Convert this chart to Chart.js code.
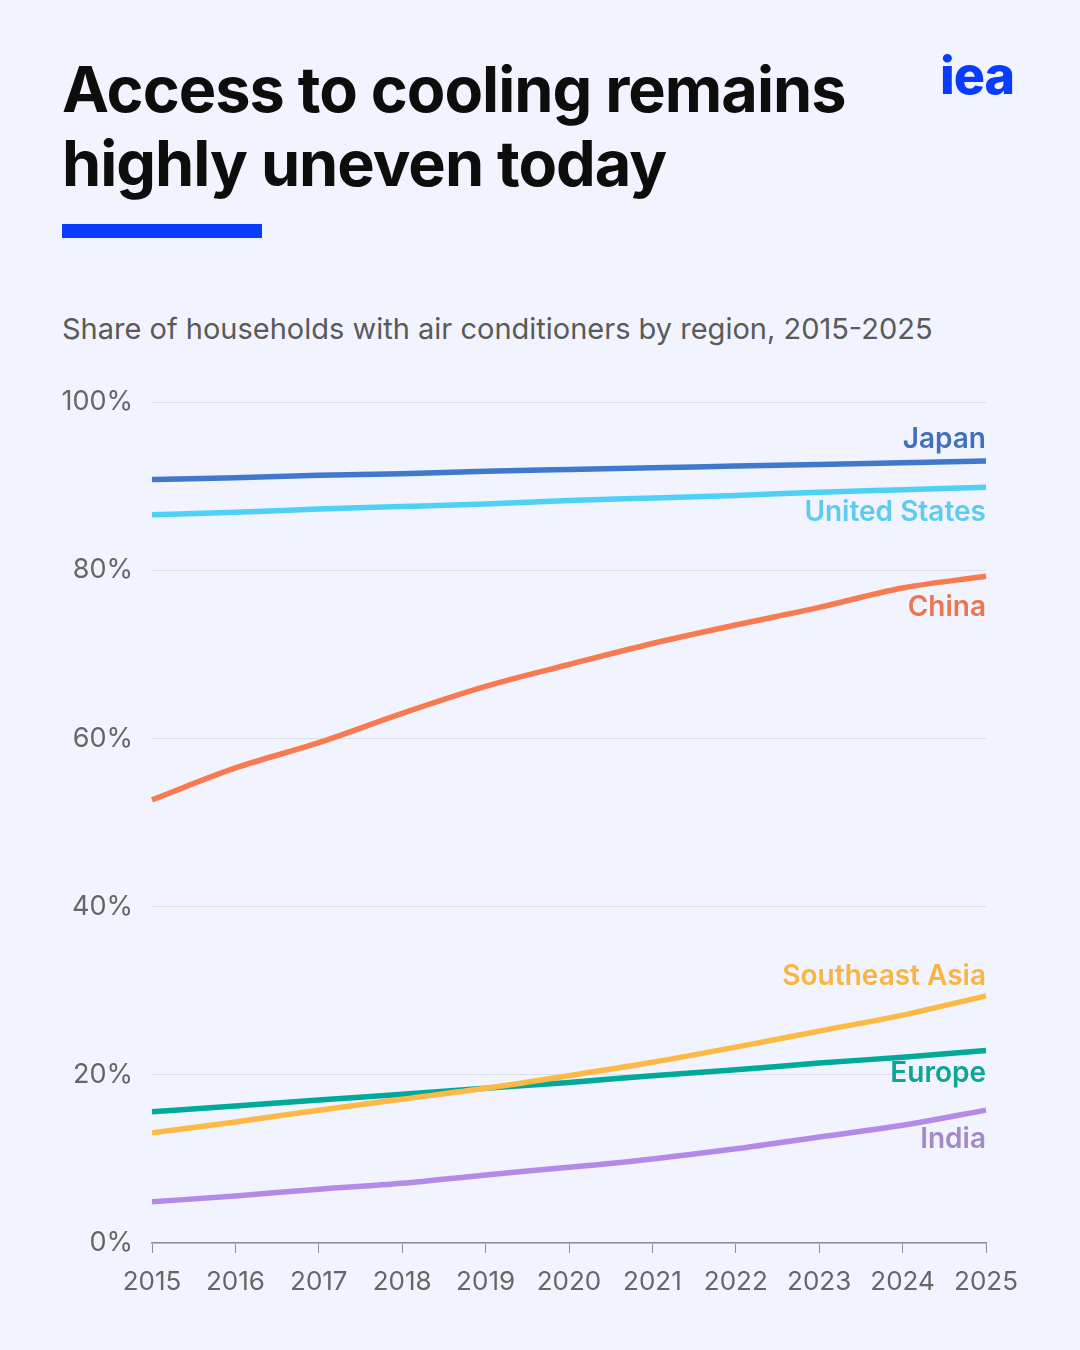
<!DOCTYPE html>
<html>
<head>
<meta charset="utf-8">
<script src="https://cdn.jsdelivr.net/npm/chart.js@4.4.1/dist/chart.umd.min.js"></script>
<style>
  html, body { margin: 0; padding: 0; }
  body { width: 1080px; height: 1350px; background: #f1f4fe; position: relative; overflow: hidden; font-family: Inter, "Noto Sans", sans-serif; }
  #titulo { position: absolute; left: 62px; top: 52px; font-size: 63px; font-weight: 700; line-height: 74px; color: #0d0d0d; letter-spacing: -1px; }
  #barra { position: absolute; left: 62px; top: 224px; width: 200px; height: 14px; background: #0a3cff; }
  #logo { position: absolute; left: 940px; top: 46px; font-size: 52px; font-weight: 800; color: #0a3cff; letter-spacing: -1px; line-height: 60px; }
  #subtitulo { position: absolute; left: 62px; top: 311px; font-size: 29px; color: #5a5a5a; }
  #grafico { position: absolute; left: 0; top: 367px; }
</style>
</head>
<body>
<div id="titulo">Access to cooling remains<br>highly uneven today</div>
<div id="barra"></div>
<div id="logo">iea</div>
<div id="subtitulo">Share of households with air conditioners by region, 2015-2025</div>
<canvas id="grafico" width="1080" height="953"></canvas>
<script>
// Dados
const anos = ['2015','2016','2017','2018','2019','2020','2021','2022','2023','2024','2025'];
const japao = [90.8, 91.0, 91.3, 91.5, 91.8, 92.0, 92.2, 92.4, 92.6, 92.8, 93.0];
const eua = [86.6, 86.9, 87.3, 87.6, 87.9, 88.3, 88.6, 88.9, 89.3, 89.6, 89.9];
const china = [52.7, 56.5, 59.5, 63.0, 66.2, 68.8, 71.3, 73.5, 75.6, 77.9, 79.3];
const sudesteAsiatico = [13.1, 14.4, 15.8, 17.1, 18.4, 19.9, 21.5, 23.3, 25.2, 27.1, 29.4];
const europa = [15.6, 16.3, 17.0, 17.7, 18.4, 19.1, 19.9, 20.6, 21.4, 22.1, 22.9];
const india = [4.9, 5.6, 6.4, 7.1, 8.1, 9.0, 10.0, 11.2, 12.6, 14.0, 15.8];
const ticksY = [0, 20, 40, 60, 80, 100];

// Séries: nome, dados, cor da linha, cor do rótulo, deslocamento do rótulo (px)
const series = [
  { nome: 'Japan', dados: japao, cor: '#3f78cc', corRotulo: '#4170bd', dy: -21 },
  { nome: 'United States', dados: eua, cor: '#4fd0f7', corRotulo: '#5ccbf0', dy: 25 },
  { nome: 'China', dados: china, cor: '#f97a50', corRotulo: '#ec7450', dy: 31 },
  { nome: 'Southeast Asia', dados: sudesteAsiatico, cor: '#fdb944', corRotulo: '#f9b540', dy: -19 },
  { nome: 'Europe', dados: europa, cor: '#00a99a', corRotulo: '#0da596', dy: 23 },
  { nome: 'India', dados: india, cor: '#b48ae8', corRotulo: '#a28ac9', dy: 29 }
];

// Rótulos no fim das linhas
const rotulos = {
  id: 'rotulos',
  afterDatasetsDraw(chart) {
    const ctx = chart.ctx;
    const x = chart.scales.x.right;
    ctx.save();
    ctx.font = '600 28px Inter, "Noto Sans", sans-serif';
    ctx.textAlign = 'right';
    ctx.textBaseline = 'middle';
    series.forEach((s, i) => {
      const meta = chart.getDatasetMeta(i);
      const ponto = meta.data[meta.data.length - 1];
      ctx.fillStyle = s.corRotulo;
      ctx.fillText(s.nome, x, ponto.y + s.dy);
    });
    ctx.restore();
  }
};

const config = {
  type: 'line',
  data: {
    labels: anos,
    datasets: series.map(s => ({
      label: s.nome,
      data: s.dados,
      borderColor: s.cor,
      borderWidth: 5.5,
      pointRadius: 0,
      cubicInterpolationMode: 'monotone',
      fill: false
    }))
  },
  options: {
    responsive: false,
    animation: false,
    layout: { padding: { top: 0, right: 94, bottom: 0, left: 0 } },
    plugins: { legend: { display: false }, tooltip: { enabled: false } },
    scales: {
      x: {
        offset: false,
        grid: { drawOnChartArea: false, drawTicks: true, tickLength: 10, color: '#8a8d96' },
        border: { display: true, color: '#8a8d96', width: 1.5 },
        ticks: { color: '#666', font: { size: 26, family: 'Inter, "Noto Sans", sans-serif' }, padding: 14, maxRotation: 0, autoSkip: false },
        afterFit(axis) { axis.height = 77; }
      },
      y: {
        min: 0,
        max: 100,
        afterBuildTicks(axis) { axis.ticks = ticksY.map(v => ({ value: v })); },
        grid: { color: '#dcdfea', lineWidth: 1, drawTicks: false },
        border: { display: false },
        ticks: {
          color: '#666',
          font: { size: 27, family: 'Inter, "Noto Sans", sans-serif' },
          padding: 19,
          callback: v => v + '%'
        },
        afterFit(axis) { axis.width = 152; }
      }
    }
  },
  plugins: [rotulos]
};

const ctx = document.getElementById('grafico');
if (ctx) {
  new Chart(ctx, config);
}
</script>
</body>
</html>
